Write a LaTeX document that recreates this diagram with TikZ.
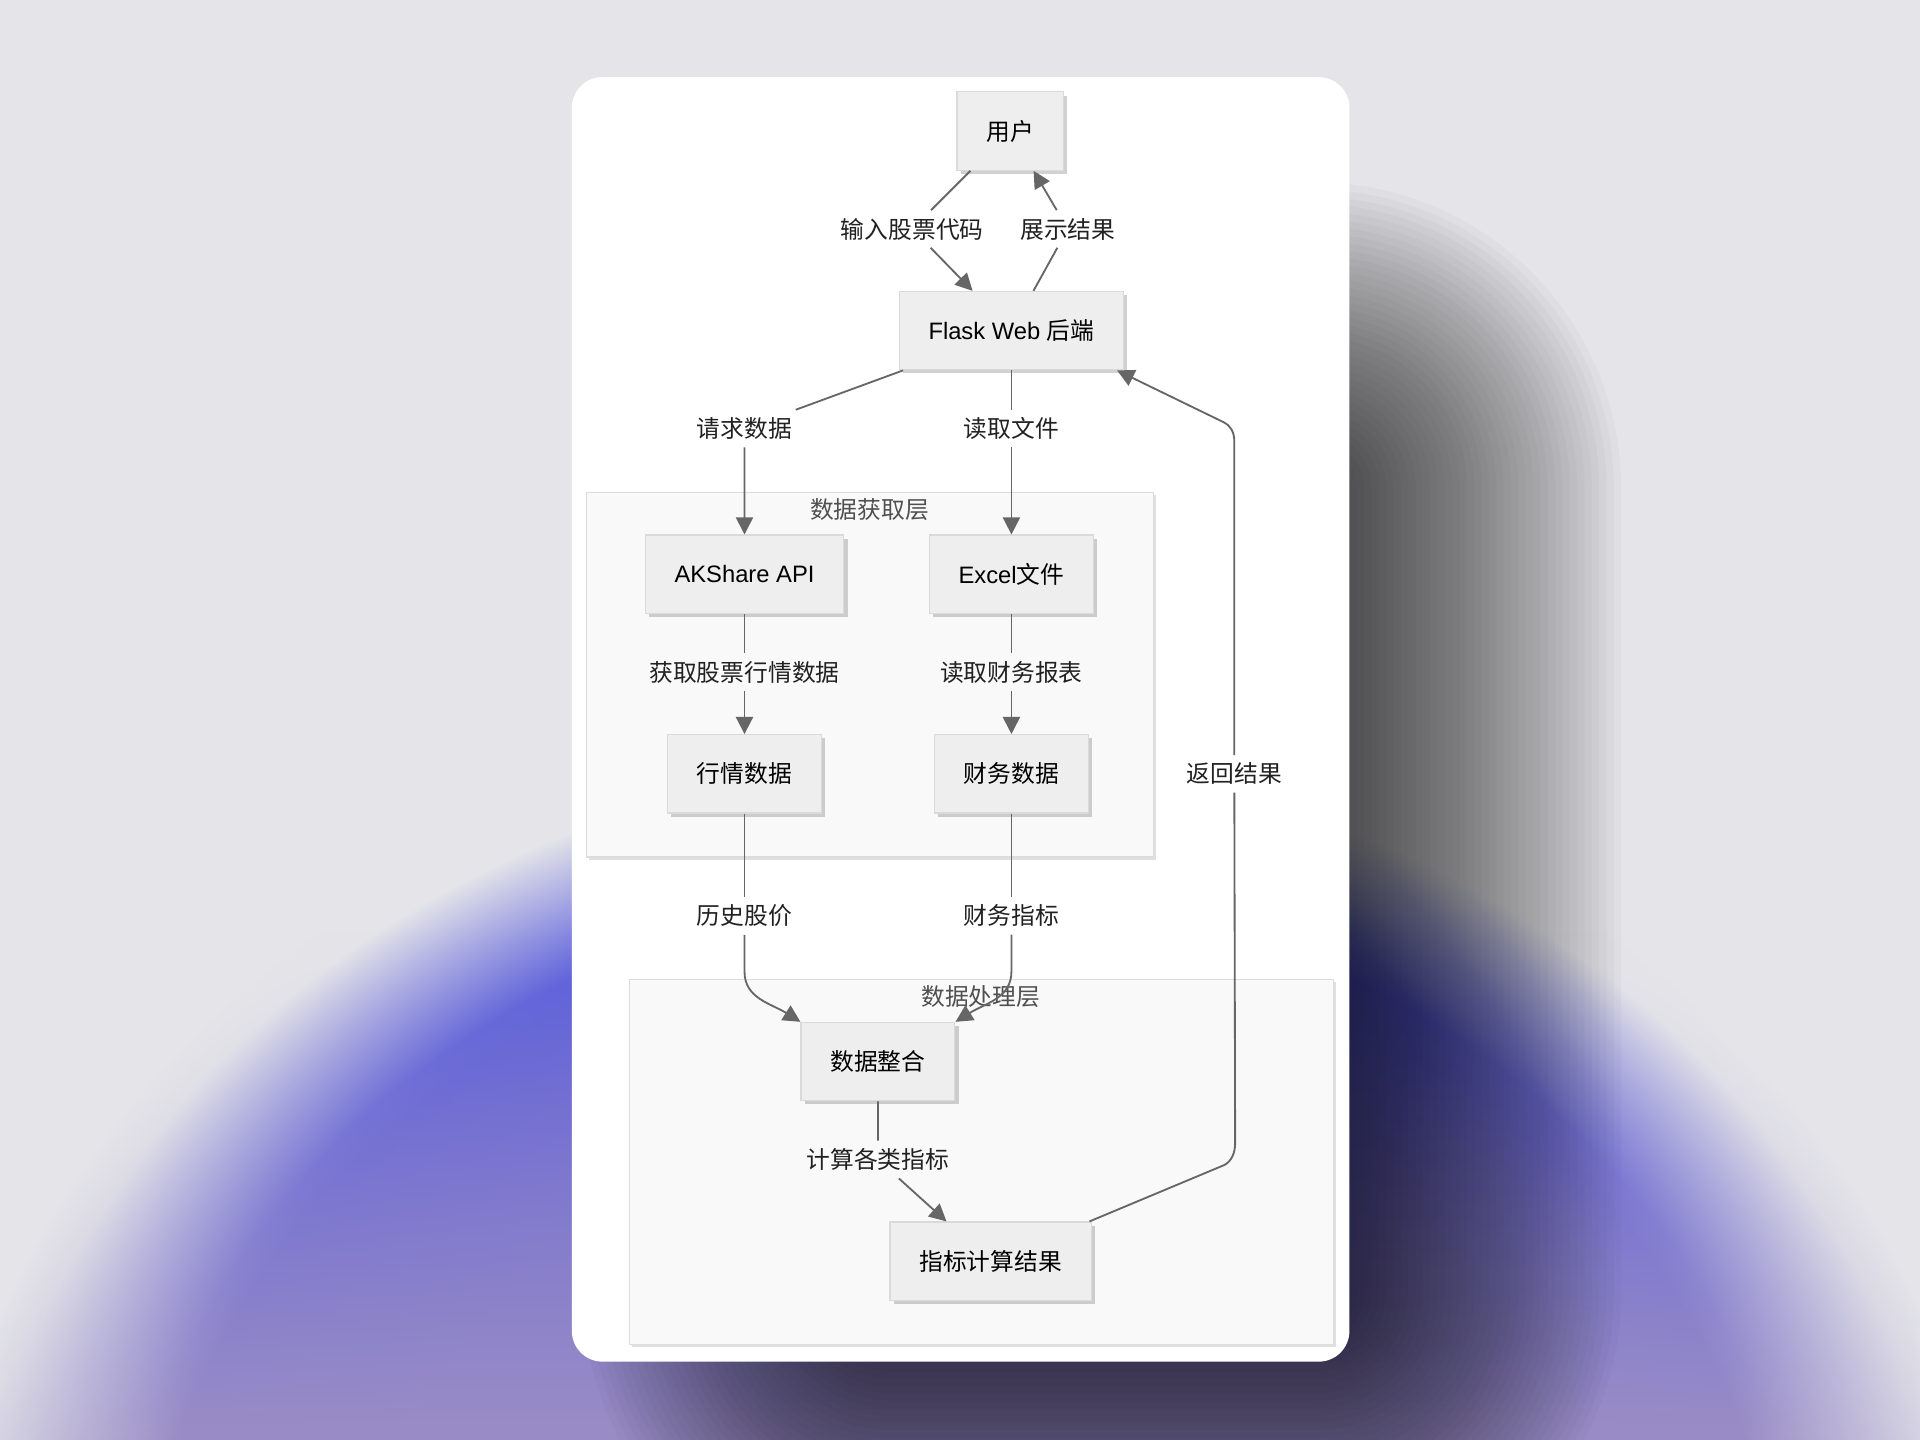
\documentclass[tikz,border=0pt]{standalone}
\usepackage{fontspec}
\setmainfont{Liberation Sans}
\newfontfamily\cjk{Noto Sans CJK SC}
\usepackage{tikz}
\usetikzlibrary{arrows.meta, shadows, fadings}

\definecolor{bgc}{HTML}{E4E4E9}
\definecolor{lavc}{HTML}{9A8DC6}
\definecolor{blobmid}{HTML}{6866D4}
\definecolor{blobrim}{HTML}{5A5EDC}
\definecolor{boxfill}{HTML}{EEEEEE}
\definecolor{boxline}{HTML}{DADADA}
\definecolor{clfill}{HTML}{F9F9F9}
\definecolor{clline}{HTML}{DCDCDC}
\definecolor{edgec}{HTML}{666666}
\definecolor{titlec}{HTML}{4F4F4F}

\pgfdeclareradialshading{blob}{\pgfpoint{0bp}{0bp}}{color(0bp)=(blobmid); color(14bp)=(blobmid); color(20bp)=(blobrim); color(23.5bp)=(bgc); color(50bp)=(bgc)}
\pgfdeclareradialshading{lavblob}{\pgfpoint{0bp}{0bp}}{color(0bp)=(lavc); color(19bp)=(lavc); color(24bp)=(bgc); color(50bp)=(bgc)}
\pgfdeclareverticalshading{lavfadeshade}{1600bp}{color(0bp)=(white); color(316bp)=(white); color(524bp)=(black); color(840bp)=(black)}
\pgfdeclarefading{lavfade}{\pgfuseshading{lavfadeshade}}

\begin{document}
\begin{tikzpicture}[x=0.5pt, y=-0.5pt]
	\tikzstyle{box} = [rectangle, draw=boxline, fill=boxfill, line width=0.5pt, minimum height=32pt, inner xsep=12pt, font=\fontsize{9.7}{11.6}\selectfont, drop shadow={shadow xshift=1.5pt, shadow yshift=-1.5pt, fill=black, opacity=0.18}]
	\tikzstyle{lbl} = [inner sep=3pt, text=black!87, font=\cjk\fontsize{9.7}{11.6}\selectfont]
	\tikzstyle{ctitle} = [inner sep=2pt, text=titlec, font=\cjk\fontsize{9.7}{11.6}\selectfont]
	\tikzstyle{cluster} = [fill=clfill, draw=clline, line width=0.6pt, drop shadow={shadow xshift=1pt, shadow yshift=-1pt, fill=black, opacity=0.12}]
	\tikzstyle{edge} = [draw=edgec, line width=0.75pt, -{Triangle[length=7pt, width=7pt]}]
	\useasboundingbox (0,0) rectangle (1568,1176);
	\fill[bgc] (0,0) rectangle (1568,1176);
	\begin{scope}
		\clip (0,0) rectangle (1568,1176);
		\shade[shading=blob] (785,1350) ellipse (430pt and 388pt);
		\shade[shading=lavblob, path fading=lavfade, fit fading=false, fading transform={shift={(785,968)}}] (785,1350) ellipse (440pt and 392pt);
		\foreach \i in {0,...,41}
			\fill[black, opacity=0.024, rounded corners=\i*3pt+2pt] (722-\i*6, 395-\i*6) rectangle (1078+\i*6, 1060+\i*6);
	\end{scope}
	\fill[white, rounded corners=12.5pt] (467,63) rectangle (1102,1112);
	\draw[cluster] (479,402) rectangle (942,700);
	\draw[cluster] (514,800) rectangle (1089,1098);
	\node[ctitle] (tfetch) at (710,416) {数据获取层};
	\node[ctitle] (tproc) at (801,814) {数据处理层};
	\node[box] (user) at (825,107) {\cjk 用户};
	\node[box] (flask) at (826,270) {Flask Web {\cjk 后端}};
	\node[box] (ak) at (608,469) {AKShare API};
	\node[box] (excel) at (826,469) {Excel{\cjk 文件}};
	\node[box] (quote) at (608,632) {\cjk 行情数据};
	\node[box] (fin) at (826,632) {\cjk 财务数据};
	\node[box] (merge) at (717,867) {\cjk 数据整合};
	\node[box] (result) at (809,1030) {\cjk 指标计算结果};
	\node[lbl] (l1) at (745,187) {输入股票代码};
	\node[lbl] (l2) at (872,187) {展示结果};
	\node[lbl] (l3) at (608,350) {请求数据};
	\node[lbl] (l4) at (826,350) {读取文件};
	\node[lbl] (l5) at (608,549) {获取股票行情数据};
	\node[lbl] (l6) at (826,549) {读取财务报表};
	\node[lbl] (l7) at (608,748) {历史股价};
	\node[lbl] (l8) at (826,748) {财务指标};
	\node[lbl] (l9) at (717,947) {计算各类指标};
	\node[lbl] (l10) at (1008,632) {返回结果};
	\draw[edge] (user) -- (l1) -- (flask);
	\draw[edge] (flask) -- (l2) -- (user);
	\draw[edge] (flask) -- (l3) -- (ak);
	\draw[edge] (flask) -- (l4) -- (excel);
	\draw[edge] (ak) -- (l5) -- (quote);
	\draw[edge] (excel) -- (l6) -- (fin);
	\draw[draw=edgec, line width=0.75pt] (quote) -- (l7);
	\draw[edge] (l7.south) -- ++(0,30) .. controls +(0,22) and +(-24,-15) .. (merge.north west);
	\draw[draw=edgec, line width=0.75pt] (fin) -- (l8);
	\draw[edge] (l8.south) -- ++(0,30) .. controls +(0,22) and +(24,-15) .. (merge.north east);
	\draw[edge] (merge) -- (l9) -- (result);
	\draw[draw=edgec, line width=0.75pt] ([xshift=-1pt]result.north east) -- ++(110,-46) .. controls +(6,-3) and +(0,8) .. ++(9,-18) -- (l10);
	\draw[edge] (l10.north) -- ++(0,-256) .. controls +(0,-8) and +(6,3) .. ++(-9,-16) -- ([xshift=-3pt]flask.south east);
\end{tikzpicture}
\end{document}
